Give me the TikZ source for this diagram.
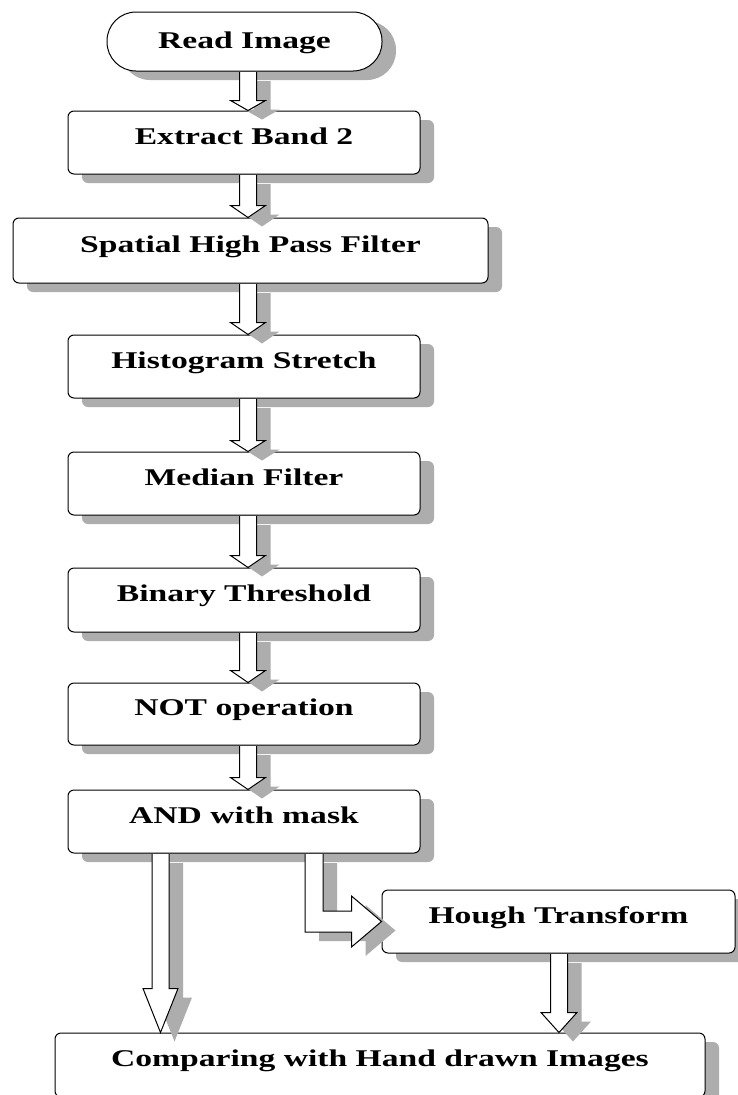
\documentclass[tikz,border=0pt]{standalone}
\usepackage{fontspec}
\newfontfamily\lblfont{Liberation Serif}[FakeStretch=1.4]
\usetikzlibrary{shadows,calc}
\tikzset{
  shd/.style={drop shadow={shadow xshift=14pt, shadow yshift=-9pt, fill=black!32, opacity=1, draw=none}},
  box/.style={draw=black, line width=1pt, fill=white, rounded corners=6pt, shd,
    inner sep=0pt, minimum height=63pt, text height=18pt, text depth=15pt,
    font=\lblfont\bfseries\fontsize{24}{28}\selectfont},
  blk/.style={draw=black, line width=1pt, fill=white, shd, line join=miter}
}
\newcommand{\blkdown}[5]{%
  \draw[blk] let \p1=(#1.south), \p2=(#2.north) in
    ({#3pt-8.5pt},{\y1-0.6pt}) -- ({#3pt-8.5pt},{\y2+#4pt}) -- ({#3pt-#5pt},{\y2+#4pt})
    -- (#3pt,\y2) -- ({#3pt+#5pt},{\y2+#4pt}) -- ({#3pt+8.5pt},{\y2+#4pt})
    -- ({#3pt+8.5pt},{\y1-0.6pt});
}
\begin{document}
\begin{tikzpicture}[x=1pt,y=-1pt]
\useasboundingbox (0,0) rectangle (737,1095);
\fill[white] (0,0) rectangle (737,1095);
\node[box, rounded corners=29pt, minimum width=275pt, minimum height=59pt, text depth=5pt] (read) at (244.5,41.5) {Read Image};
\node[box, minimum width=352pt] (extract) at (244,142.5) {Extract Band 2};
\node[box, minimum width=475pt, minimum height=65pt] (spatial) at (250.5,250.5) {Spatial High Pass Filter};
\node[box, minimum width=352pt] (hist) at (244,366.5) {Histogram Stretch};
\node[box, minimum width=352pt] (median) at (244,483.5) {Median Filter};
\node[box, minimum width=352pt, minimum height=64pt] (binary) at (244,600) {Binary Threshold};
\node[box, minimum width=352pt, minimum height=62pt] (notop) at (244,714) {NOT operation};
\node[box, minimum width=352pt] (andm) at (244,821.5) {AND with mask};
\node[box, minimum width=353pt] (hough) at (558.5,921.5) {Hough Transform};
\node[box, minimum width=650pt, minimum height=64pt] (comp) at (380,1065) {Comparing with Hand drawn Images};
\blkdown{read}{extract}{248}{10}{17.5}
\blkdown{extract}{spatial}{248}{12}{17.5}
\blkdown{spatial}{hist}{248}{12}{17.5}
\blkdown{hist}{median}{248}{11}{17.5}
\blkdown{median}{binary}{248}{12}{17.5}
\blkdown{binary}{notop}{248}{12}{17.5}
\blkdown{notop}{andm}{248}{12}{17.5}
\blkdown{andm}{comp}{160.5}{44}{17.5}
\blkdown{hough}{comp}{559}{20}{18}
\draw[blk] let \p1=(andm.south), \p2=(hough.west) in
  (305pt,{\y1-0.6pt}) -- (305pt,{\y2-10.5pt}) -- ({\x2-30pt},{\y2-10.5pt})
  -- ({\x2-30pt},{\y2-25.5pt}) -- (\x2,\y2) -- ({\x2-30pt},{\y2+25.5pt})
  -- ({\x2-30pt},{\y2+10.5pt}) -- (323pt,{\y2+10.5pt}) -- (323pt,{\y1-0.6pt});
\end{tikzpicture}
\end{document}
